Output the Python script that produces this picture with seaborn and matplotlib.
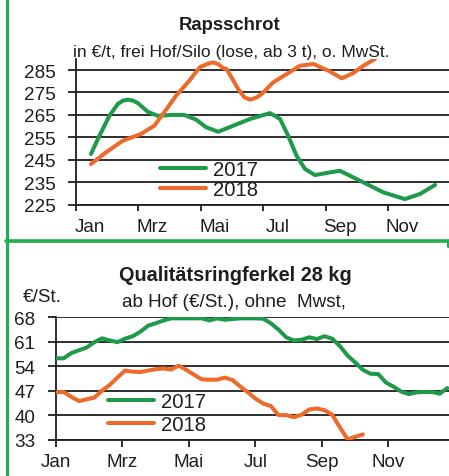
import numpy as np
import pandas as pd
import seaborn as sns
import matplotlib
matplotlib.use("Agg")
import matplotlib.pyplot as plt
from matplotlib import font_manager
from matplotlib.lines import Line2D

# ---------------- data ----------------
months = ["Jan", "Mrz", "Mai", "Jul", "Sep", "Nov"]

# Rapsschrot (month position, EUR/t)
raps17_x = [0.48, 0.75, 1.07, 1.34, 1.50, 1.66, 1.82, 1.98, 2.30, 2.62, 3.10, 3.47, 3.85, 4.17, 4.56, 5.04,
            5.58, 6.22, 6.54, 6.80, 7.07, 7.34, 7.66, 8.14, 8.46, 9.10, 9.85, 10.54, 11.03, 11.51]
raps17_y = [247.6, 255.7, 264.6, 269.9, 271.3, 271.8, 271.4, 270.3, 266.4, 264.6, 265.0, 265.0, 262.9, 259.5,
            257.5, 260.2, 263.2, 265.8, 263.2, 255.7, 246.8, 240.9, 238.2, 239.4, 240.1, 235.7, 230.5,
            227.5, 229.8, 233.8]
raps18_x = [0.48, 0.96, 1.50, 2.08, 2.51, 2.83, 3.21, 3.63, 3.97, 4.08, 4.24, 4.40, 4.56, 4.72, 4.83,
            5.20, 5.40, 5.58, 5.79, 5.95, 6.32, 6.75, 7.18, 7.61, 8.09, 8.52, 8.89, 9.21, 9.58]
raps18_y = [243.1, 248.3, 253.5, 256.5, 260.2, 266.2, 273.6, 280.2, 286.3, 286.9, 287.9, 288.4, 287.6,
            285.9, 285.4, 276.5, 272.8, 271.8, 272.8, 274.3, 279.5, 283.2, 286.9, 287.7, 284.7, 281.3,
            283.7, 286.9, 289.9]
raps_yticks = [225, 235, 245, 255, 265, 275, 285]

# Qualitaetsringferkel, weekly (EUR/St.)
ferk17 = [56.3, 56.3, 57.8, 58.6, 59.4, 60.9, 62.0, 61.4, 60.9, 61.9, 62.6, 63.9, 65.6, 66.3, 67.1, 67.7,
          67.7, 67.7, 67.7, 67.7, 67.1, 67.7, 67.3, 67.5, 67.7, 67.7, 67.7, 67.6, 66.3, 64.5, 62.3, 61.4,
          61.6, 62.3, 61.8, 62.6, 61.9, 59.8, 57.1, 55.1, 53.0, 51.9, 51.8, 49.4, 48.2, 46.8, 46.1, 46.6,
          46.7, 46.7, 46.2, 47.8]
ferk18 = [46.6, 46.7, 45.3, 44.1, 44.6, 45.1, 47.1, 48.7, 50.8, 52.8, 52.5, 52.4, 52.8, 53.2, 53.4, 53.1,
          54.2, 53.0, 51.6, 50.3, 50.2, 50.2, 50.8, 50.1, 48.3, 46.6, 44.8, 43.4, 42.7, 40.1, 40.1, 39.5,
          40.2, 41.7, 42.0, 41.5, 40.2, 36.6, 33.2, 33.9, 34.6]
ferk_yticks = [33, 40, 47, 54, 61, 68]

years = ["2017", "2018"]

# ---------------- style ----------------
sns.set_theme(style="white")
names = {f.name for f in font_manager.fontManager.ttflist}
FONT = "Liberation Sans" if "Liberation Sans" in names else "DejaVu Sans"
plt.rcParams["font.family"] = [FONT, "DejaVu Sans"]

GREEN = "#1f9a4a"
ORANGE = "#ee6a2b"
BORDER = "#22ad4e"
INK = "#1e1e1e"
palette = {"2017": GREEN, "2018": ORANGE}
TICK_FS = 13.6
LEG_FS = 14.6

W, H = 449, 477
fig = plt.figure(figsize=(W / 100, H / 100), dpi=100)
fig.patch.set_facecolor("white")


def fx(px):
    return px / W


def fy(py):
    return 1 - py / H


ax1 = fig.add_axes([fx(76), fy(205.7), 1 - fx(76), fy(59.8) - fy(205.7)])
ax2 = fig.add_axes([fx(56), fy(441), 1 - fx(56), fy(318.3) - fy(441)])

df1 = pd.concat([
    pd.DataFrame({"month": raps17_x, "value": raps17_y, "year": "2017"}),
    pd.DataFrame({"month": raps18_x, "value": raps18_y, "year": "2018"}),
])
weeks17 = np.arange(len(ferk17)) * 12 / 52
weeks18 = np.arange(len(ferk18)) * 12 / 52
df2 = pd.concat([
    pd.DataFrame({"month": weeks17, "value": ferk17, "year": "2017"}),
    pd.DataFrame({"month": weeks18, "value": ferk18, "year": "2018"}),
])

for ax, df in ((ax1, df1), (ax2, df2)):
    sns.lineplot(data=df, x="month", y="value", hue="year", palette=palette, ax=ax,
                 linewidth=2.9, estimator=None, sort=False, legend=False)
    for ln in ax.lines:
        ln.set_solid_capstyle("round")
        ln.set_solid_joinstyle("round")
        ln.set_zorder(3)
    ax.set_facecolor("none")
    ax.set_axisbelow(True)
    ax.yaxis.grid(True, color=INK, linewidth=1.3)
    ax.xaxis.grid(False)
    for s in ("top", "right"):
        ax.spines[s].set_visible(False)
    for s in ("left", "bottom"):
        ax.spines[s].set_color(INK)
        ax.spines[s].set_linewidth(1.3)
    ax.set_xlabel("")
    ax.set_ylabel("")
    ax.tick_params(axis="y", direction="out", length=5.8, width=1.3, color=INK,
                   labelsize=TICK_FS, pad=9, labelcolor=INK, left=True)
    ax.tick_params(axis="x", which="major", direction="out", length=4.6, width=1.3, color=INK,
                   labelsize=TICK_FS, labelcolor=INK, bottom=True)

# top panel
ax1.set_xlim(0, 11.955)
ax1.set_ylim(225, 290)
ax1.set_yticks(raps_yticks)
ax1.set_xticks([0, 2, 4, 6, 8, 10])
ax1.set_xticklabels([])
ax1.set_xticks([0.45, 2.45, 4.45, 6.45, 8.45, 10.45], minor=True)
ax1.set_xticklabels(months, minor=True)
ax1.tick_params(axis="x", which="minor", length=0, pad=9.6, labelsize=TICK_FS, labelcolor=INK)

# bottom panel
ax2.set_xlim(0, 11.82)
ax2.set_ylim(33, 68)
ax2.set_yticks(ferk_yticks)
ax2.set_xticks([0, 2, 4, 6, 8, 10])
ax2.set_xticklabels(months)
ax2.tick_params(axis="x", which="major", length=5, pad=4.6)

# legends
for ax, anchor, spacing in ((ax1, (fx(160), fy(161)), 0.03), (ax2, (fx(108), fy(393)), 0.2)):
    handles = [Line2D([], [], color=palette[y], linewidth=2.9, solid_capstyle="round") for y in years]
    ax.legend(handles, years, loc="upper left", bbox_to_anchor=anchor, bbox_transform=fig.transFigure,
              frameon=False, fontsize=LEG_FS, handlelength=2.27, handletextpad=0.36,
              labelspacing=spacing, borderpad=0, borderaxespad=0, labelcolor=INK)

# texts
fig.text(fx(229.5), fy(30), "Rapsschrot", ha="center", va="baseline", fontsize=13.3,
         fontweight="bold", color=INK)
fig.text(fx(231), fy(56.7), "in €/t, frei Hof/Silo (lose, ab 3 t), o. MwSt.", ha="center",
         va="baseline", fontsize=12.5, color=INK)
fig.text(fx(235), fy(281), "Qualitätsringferkel 28 kg", ha="center", va="baseline", fontsize=14.3,
         fontweight="bold", color=INK)
fig.text(fx(23), fy(301.7), "€/St.", ha="left", va="baseline", fontsize=13.6, color=INK)
fig.text(fx(234), fy(306.7), "ab Hof (€/St.), ohne  Mwst,", ha="center", va="baseline",
         fontsize=13.6, color=INK)

# green frame lines
fig.add_artist(Line2D([fx(6.7), fx(6.7)], [0, 1], color=BORDER, linewidth=2.3,
                      transform=fig.transFigure))
fig.add_artist(Line2D([fx(5.5), 1], [fy(242), fy(242)], color=BORDER, linewidth=2.6,
                      transform=fig.transFigure))
fig.add_artist(Line2D([fx(447.8), fx(447.8)], [fy(242), fy(247)], color=BORDER, linewidth=2.3,
                      transform=fig.transFigure))

fig.savefig("out.png", dpi=100, facecolor="white")
